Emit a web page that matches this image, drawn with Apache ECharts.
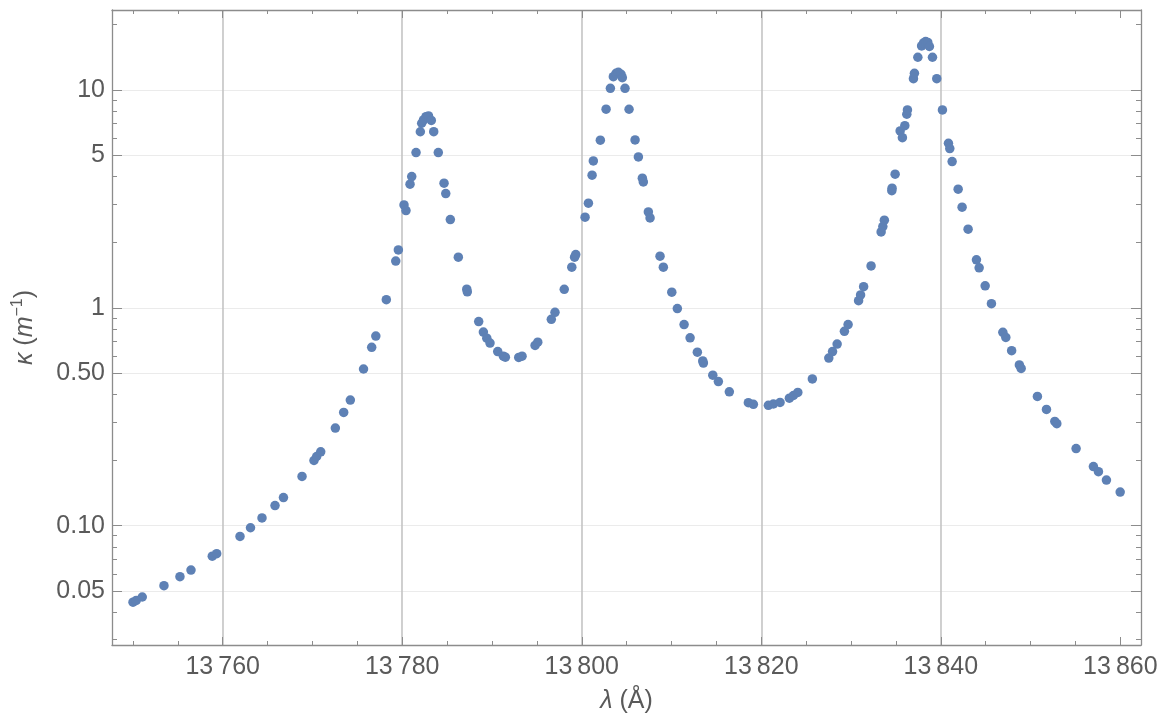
<!DOCTYPE html>
<html>
<head>
<meta charset="utf-8">
<script src="https://cdn.jsdelivr.net/npm/echarts@6/dist/echarts.min.js"></script>
<style>html,body{margin:0;padding:0;background:#fff;}#chart{width:1168px;height:722px;}</style>
</head>
<body>
<div id="chart"></div>
<script>
// wavelength (Å)
const lambda = [
13750.01,13750.37,13751.04,13753.46,13755.24,13756.47,13758.84,13759.33,13761.93,13763.10,
13764.38,13765.83,13766.77,13768.84,13770.17,13770.47,13770.92,13772.55,13773.48,13774.22,
13775.69,13776.60,13777.06,13778.23,13779.28,13779.57,13780.20,13780.42,13780.87,13781.06,
13781.54,13782.02,13782.17,13782.37,13782.65,13782.93,13783.24,13783.51,13784.02,13784.66,
13784.85,13785.36,13786.25,13787.19,13787.25,13788.52,13789.04,13789.42,13789.78,13790.64,
13791.27,13791.49,13792.98,13793.35,13794.80,13795.10,13796.61,13797.02,13798.05,13798.89,
13799.20,13799.33,13800.37,13800.74,13801.15,13801.29,13802.07,13802.71,13803.19,13803.52,
13803.82,13804.08,13804.38,13804.52,13804.82,13805.27,13805.94,13806.31,13806.75,13806.86,
13807.42,13807.61,13808.72,13809.09,13810.03,13810.65,13811.40,13812.07,13812.88,13813.48,
13813.55,13814.60,13815.22,13816.44,13818.56,13819.12,13820.79,13821.35,13822.09,13823.13,
13823.58,13824.07,13825.69,13827.52,13827.94,13828.45,13829.26,13829.67,13830.84,13831.06,
13831.40,13832.23,13833.35,13833.54,13833.71,13834.54,13834.57,13834.91,13835.47,13835.72,
13835.99,13836.21,13836.28,13836.95,13837.06,13837.44,13837.86,13838.08,13838.31,13838.55,
13838.73,13839.07,13839.55,13840.18,13840.85,13841.00,13841.26,13841.93,13842.37,13843.04,
13843.97,13844.27,13844.94,13845.64,13846.91,13847.24,13847.89,13848.75,13848.95,13850.76,
13851.77,13852.70,13852.92,13855.07,13857.00,13857.56,13858.45,13859.98
];
// absorption coefficient κ (m^-1)
const kappa = [
0.0446,0.0454,0.0471,0.0531,0.0584,0.0626,0.0725,0.0744,0.0893,0.0979,
0.1086,0.1238,0.1347,0.1684,0.1993,0.2079,0.2185,0.2806,0.3310,0.3772,
0.524,0.659,0.742,1.090,1.639,1.845,2.968,2.795,3.693,4.003,
5.158,6.431,7.035,7.285,7.543,7.598,7.246,6.437,5.158,3.733,
3.345,2.541,1.708,1.218,1.184,0.865,0.774,0.726,0.689,0.630,
0.600,0.594,0.592,0.600,0.672,0.696,0.886,0.954,1.216,1.537,
1.708,1.756,2.606,3.022,4.062,4.725,5.885,8.166,10.18,11.51,
11.93,12.06,11.80,11.39,10.18,8.157,5.897,4.928,3.935,3.784,
2.757,2.587,1.726,1.537,1.180,0.993,0.838,0.729,0.626,0.571,
0.558,0.491,0.459,0.412,0.367,0.361,0.357,0.362,0.368,0.385,
0.396,0.409,0.472,0.588,0.630,0.682,0.780,0.838,1.079,1.147,
1.251,1.558,2.232,2.360,2.526,3.451,3.540,4.105,6.486,6.043,
6.859,7.736,8.097,11.27,11.93,14.13,15.92,16.43,16.69,16.52,
15.83,14.13,11.27,8.097,5.694,5.380,4.690,3.503,2.897,2.296,
1.661,1.526,1.262,1.045,0.772,0.732,0.636,0.547,0.527,0.392,
0.342,0.301,0.294,0.226,0.187,0.177,0.162,0.1428
];
const xMajor = [13760, 13780, 13800, 13820, 13840, 13860];
const xGrid = [13760, 13780, 13800, 13820, 13840];
const xMinor = [13750, 13755, 13765, 13770, 13775, 13785, 13790, 13795, 13805, 13810, 13815, 13825, 13830, 13835, 13845, 13850, 13855];
const yMajor = [0.05, 0.1, 0.5, 1, 5, 10];
const yMajorLabels = ['0.05', '0.10', '0.50', '1', '5', '10'];
const yMinor = [0.03, 0.04, 0.06, 0.07, 0.08, 0.09, 0.2, 0.3, 0.4, 0.6, 0.7, 0.8, 0.9, 2, 3, 4, 6, 7, 8, 9, 20];

const X_MIN = 13747.67, X_MAX = 13862.3, Y_MIN = 0.02836, Y_MAX = 23.28;
const FRAME = '#8c8c8c';
const LABEL_COLOR = '#5a5a5a';
const FONT = 'Liberation Sans, Arial, sans-serif';

function xAx(opts) {
  return Object.assign({
    type: 'value', min: X_MIN, max: X_MAX,
    axisLine: { show: true, lineStyle: { color: FRAME, width: 1.3 } },
    axisLabel: { show: false },
    splitLine: { show: false }
  }, opts);
}
function yAx(opts) {
  return Object.assign({
    type: 'log', logBase: 10, min: Y_MIN, max: Y_MAX,
    axisLine: { show: true, lineStyle: { color: FRAME, width: 1.3 } },
    axisLabel: { show: false },
    splitLine: { show: false }
  }, opts);
}
const fmtX = v => String(Math.round(v)).replace(/^(\d\d)(\d{3})$/, '$1\u2009$2');

const chart = echarts.init(document.getElementById('chart'), null, { renderer: 'canvas' });
chart.setOption({
  animation: false,
  backgroundColor: '#ffffff',
  grid: { left: 112, right: 27, top: 10, bottom: 77, containLabel: false },
  xAxis: [
    xAx({
      position: 'bottom',
      axisTick: { show: true, inside: true, length: 8, customValues: xMajor, lineStyle: { color: FRAME } },
      axisLabel: { show: true, customValues: xMajor, formatter: fmtX, color: LABEL_COLOR, fontSize: 25, fontFamily: FONT, margin: 10 },
      name: '{i|λ} (Å)', nameLocation: 'middle', nameGap: 44,
      nameTextStyle: { color: LABEL_COLOR, fontSize: 25, fontFamily: FONT,
        rich: { i: { fontStyle: 'italic', fontSize: 25, fontFamily: FONT, color: LABEL_COLOR } } }
    }),
    xAx({ position: 'bottom', axisLine: { show: false },
      axisTick: { show: true, inside: true, length: 4, customValues: xMinor, lineStyle: { color: FRAME } } }),
    xAx({ position: 'top',
      axisTick: { show: true, inside: true, length: 8, customValues: xMajor, lineStyle: { color: FRAME } } }),
    xAx({ position: 'top', axisLine: { show: false },
      axisTick: { show: true, inside: true, length: 4, customValues: xMinor, lineStyle: { color: FRAME } } }),
    xAx({ position: 'bottom', axisLine: { show: false },
      axisTick: { show: false, customValues: xGrid },
      splitLine: { show: true, lineStyle: { color: '#c4c4c4', width: 1.6 } } })
  ],
  yAxis: [
    yAx({
      position: 'left',
      axisTick: { show: true, inside: true, length: 10, customValues: yMajor, lineStyle: { color: FRAME } },
      axisLabel: { show: true, customValues: yMajor,
        formatter: v => { const i = yMajor.findIndex(m => Math.abs(m - v) / m < 1e-6); return i >= 0 ? yMajorLabels[i] : ''; },
        color: LABEL_COLOR, fontSize: 25, fontFamily: FONT, margin: 7 },
      splitLine: { show: true, lineStyle: { color: '#ebebeb', width: 1.2 } },
      name: '{i|κ} ({i|m}{sup|−1})', nameLocation: 'middle', nameGap: 72, nameRotate: 90,
      nameTextStyle: { color: LABEL_COLOR, fontSize: 25, fontFamily: FONT,
        rich: {
          i: { fontStyle: 'italic', fontSize: 25, fontFamily: FONT, color: LABEL_COLOR },
          sup: { fontSize: 16, fontFamily: FONT, color: LABEL_COLOR, verticalAlign: 'top', lineHeight: 30 }
        } }
    }),
    yAx({ position: 'left', axisLine: { show: false },
      axisTick: { show: true, inside: true, length: 5, customValues: yMinor, lineStyle: { color: FRAME } } }),
    yAx({ position: 'right',
      axisTick: { show: true, inside: true, length: 10, customValues: yMajor, lineStyle: { color: FRAME } } }),
    yAx({ position: 'right', axisLine: { show: false },
      axisTick: { show: true, inside: true, length: 5, customValues: yMinor, lineStyle: { color: FRAME } } })
  ],
  series: [{
    type: 'scatter',
    xAxisIndex: 0, yAxisIndex: 0,
    symbol: 'circle', symbolSize: 9.5,
    itemStyle: { color: '#5e81b5', opacity: 1 },
    data: lambda.map((l, i) => [l, kappa[i]])
  }]
});
</script>
</body>
</html>
